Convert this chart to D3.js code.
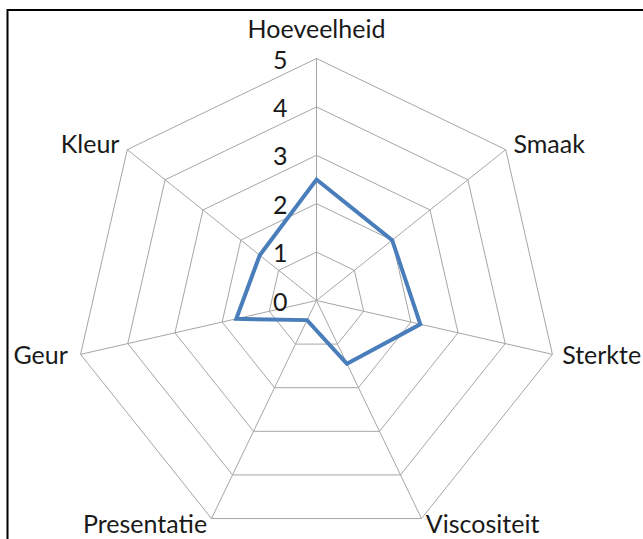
<!DOCTYPE html>
<html>
<head>
<meta charset="utf-8">
<script src="https://cdn.jsdelivr.net/npm/d3@7"></script>
<style>
  html, body { margin: 0; padding: 0; background: #fff; }
  svg { display: block; }
  text { font-family: Lato, "Open Sans", sans-serif; fill: #1a1a1a; }
</style>
</head>
<body>
<svg id="chart" width="643" height="539"></svg>
<script>
const categories = ["Hoeveelheid", "Smaak", "Sterkte", "Viscositeit", "Presentatie", "Geur", "Kleur"];
const values = [2.5, 2, 2.2, 1.45, 0.45, 1.7, 1.5];
const tickValues = [0, 1, 2, 3, 4, 5];

const W = 643, H = 539;
const cx = 316.5, cy = 300.5, R = 242;
const FS = 25;
const svg = d3.select("#chart");

// border (top and left of the chart frame)
svg.append("rect").attr("x", 7.5).attr("y", 10).attr("width", 700).attr("height", 600)
  .attr("fill", "none").attr("stroke", "#000").attr("stroke-width", 2);

const r = d3.scaleLinear().domain([0, 5]).range([0, R]);
const angle = d3.scalePoint().domain(categories).range([0, 2 * Math.PI * (categories.length - 1) / categories.length]);
const pt = (c, v) => {
  const a = angle(c);
  return [cx + r(v) * Math.sin(a), cy - r(v) * Math.cos(a)];
};

const g = svg.append("g");
// grid rings
tickValues.filter(t => t > 0).forEach(t => {
  g.append("polygon")
    .attr("points", categories.map(c => pt(c, t).join(",")).join(" "))
    .attr("fill", "none").attr("stroke", "#a6a6a6").attr("stroke-width", 1);
});
// spokes
categories.forEach(c => {
  const [x, y] = pt(c, 5);
  g.append("line").attr("x1", cx).attr("y1", cy).attr("x2", x).attr("y2", y)
    .attr("stroke", "#a6a6a6").attr("stroke-width", 1);
});

// series
const line = d3.line().curve(d3.curveLinearClosed);
g.append("path")
  .attr("d", line(categories.map((c, i) => pt(c, values[i]))))
  .attr("fill", "none").attr("stroke", "#4a7ebb").attr("stroke-width", 4)
  .attr("stroke-linejoin", "miter");

// tick labels
tickValues.forEach(t => {
  g.append("text").attr("x", cx - 29).attr("y", cy - r(t))
    .attr("text-anchor", "end").attr("dominant-baseline", "central")
    .attr("font-size", FS).text(t);
});

// category labels
categories.forEach(c => {
  const a = angle(c);
  const [x, y] = pt(c, 5);
  const s = Math.sin(a), co = Math.cos(a);
  const t = g.append("text").attr("font-size", FS).text(c);
  if (Math.abs(s) < 0.05) {
    t.attr("x", x).attr("y", y - 21).attr("text-anchor", "middle");
  } else {
    t.attr("x", x + 10 * s + (s < -0.9 ? -3 : 0)).attr("y", y + 8 - 7 * co)
      .attr("text-anchor", s > 0 ? "start" : "end");
  }
});
</script>
</body>
</html>
